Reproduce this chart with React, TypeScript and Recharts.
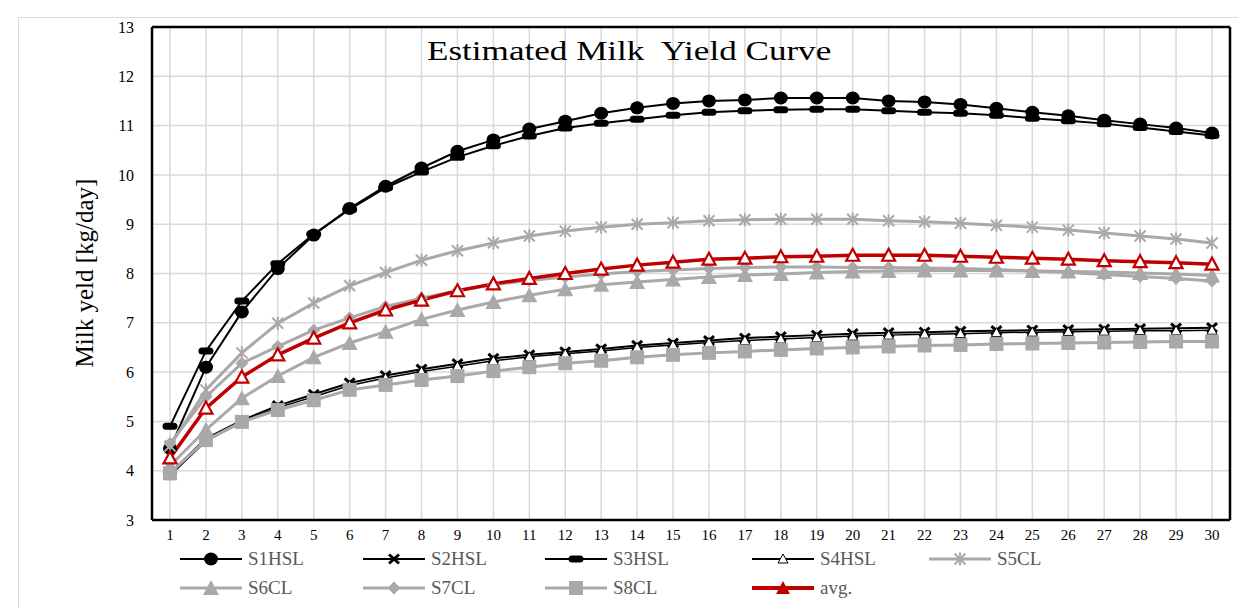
import { LineChart, Line, XAxis, YAxis, CartesianGrid } from "recharts";

const days = ["1", "2", "3", "4", "5", "6", "7", "8", "9", "10", "11", "12", "13", "14", "15", "16", "17", "18", "19", "20", "21", "22", "23", "24", "25", "26", "27", "28", "29", "30"];
const yTicks = [3, 4, 5, 6, 7, 8, 9, 10, 11, 12, 13];

const s1hsl = [4.45, 6.1, 7.22, 8.1, 8.78, 9.32, 9.77, 10.14, 10.48, 10.71, 10.93, 11.09, 11.25, 11.36, 11.45, 11.5, 11.52, 11.56, 11.56, 11.56, 11.5, 11.48, 11.43, 11.35, 11.27, 11.2, 11.11, 11.03, 10.95, 10.85];
const s2hsl = [3.95, 4.65, 5.02, 5.32, 5.55, 5.78, 5.93, 6.06, 6.17, 6.28, 6.35, 6.41, 6.47, 6.54, 6.59, 6.64, 6.69, 6.72, 6.75, 6.78, 6.8, 6.81, 6.83, 6.84, 6.85, 6.86, 6.87, 6.88, 6.89, 6.9];
const s3hsl = [4.9, 6.43, 7.44, 8.2, 8.8, 9.3, 9.74, 10.06, 10.36, 10.59, 10.79, 10.95, 11.05, 11.13, 11.21, 11.27, 11.3, 11.32, 11.33, 11.33, 11.3, 11.27, 11.25, 11.21, 11.15, 11.1, 11.04, 10.96, 10.88, 10.8];
const s4hsl = [3.9, 4.6, 4.98, 5.28, 5.5, 5.73, 5.88, 6.01, 6.12, 6.23, 6.31, 6.37, 6.43, 6.5, 6.55, 6.6, 6.64, 6.67, 6.7, 6.73, 6.75, 6.77, 6.78, 6.8, 6.81, 6.82, 6.83, 6.84, 6.84, 6.85];
const s5cl = [4.5, 5.64, 6.39, 6.99, 7.4, 7.75, 8.02, 8.27, 8.46, 8.62, 8.76, 8.86, 8.94, 9.0, 9.03, 9.07, 9.09, 9.1, 9.1, 9.1, 9.07, 9.05, 9.02, 8.98, 8.94, 8.88, 8.82, 8.76, 8.7, 8.62];
const s6cl = [4.1, 4.83, 5.47, 5.92, 6.3, 6.59, 6.82, 7.07, 7.26, 7.42, 7.56, 7.68, 7.77, 7.83, 7.88, 7.93, 7.97, 7.99, 8.02, 8.04, 8.05, 8.06, 8.06, 8.06, 8.05, 8.04, 8.03, 8.01, 7.99, 7.96];
const s7cl = [4.55, 5.5, 6.18, 6.52, 6.85, 7.1, 7.33, 7.5, 7.65, 7.77, 7.86, 7.93, 7.99, 8.04, 8.07, 8.1, 8.12, 8.13, 8.13, 8.12, 8.12, 8.11, 8.1, 8.08, 8.05, 8.02, 7.98, 7.94, 7.9, 7.85];
const s8cl = [3.95, 4.62, 4.99, 5.23, 5.43, 5.64, 5.74, 5.84, 5.92, 6.02, 6.1, 6.18, 6.23, 6.3, 6.35, 6.39, 6.42, 6.45, 6.48, 6.5, 6.52, 6.54, 6.55, 6.57, 6.58, 6.59, 6.6, 6.61, 6.62, 6.62];
const avg = [4.26, 5.27, 5.9, 6.35, 6.69, 7.0, 7.26, 7.46, 7.65, 7.79, 7.9, 8.0, 8.09, 8.17, 8.23, 8.29, 8.31, 8.34, 8.35, 8.37, 8.37, 8.37, 8.35, 8.33, 8.31, 8.29, 8.26, 8.24, 8.22, 8.19];

const data = days.map((day, i) => ({
  day,
  S1HSL: s1hsl[i],
  S2HSL: s2hsl[i],
  S3HSL: s3hsl[i],
  S4HSL: s4hsl[i],
  S5CL: s5cl[i],
  S6CL: s6cl[i],
  S7CL: s7cl[i],
  S8CL: s8cl[i],
  avg: avg[i],
}));

const BLACK = "#000";
const GREY = "#aaa8a8";
const RED = "#c00000";
const SERIF = "'Liberation Serif', 'Times New Roman', serif";

type Shape = "circle" | "x" | "dash" | "otri" | "star" | "tri" | "diamond" | "square" | "rtri" | "ftri";

const series: { key: string; shape: Shape; color: string; width: number }[] = [
  { key: "S1HSL", shape: "circle", color: BLACK, width: 2 },
  { key: "S2HSL", shape: "x", color: BLACK, width: 2 },
  { key: "S3HSL", shape: "dash", color: BLACK, width: 2 },
  { key: "S4HSL", shape: "otri", color: BLACK, width: 1.5 },
  { key: "S5CL", shape: "star", color: GREY, width: 3 },
  { key: "S6CL", shape: "tri", color: GREY, width: 3 },
  { key: "S7CL", shape: "diamond", color: GREY, width: 3 },
  { key: "S8CL", shape: "square", color: GREY, width: 3 },
  { key: "avg", shape: "rtri", color: RED, width: 3.5 },
];

function Marker({ shape, cx, cy, color }: { shape: Shape; cx: number; cy: number; color: string }) {
  if (cx == null || cy == null) return null;
  switch (shape) {
    case "circle":
      return <ellipse cx={cx} cy={cy} rx={7} ry={6.5} fill={color} />;
    case "x":
      return (
        <g stroke={color} strokeWidth={3}>
          <line x1={cx - 5} y1={cy - 4.5} x2={cx + 5} y2={cy + 4.5} />
          <line x1={cx - 5} y1={cy + 4.5} x2={cx + 5} y2={cy - 4.5} />
        </g>
      );
    case "dash":
      return <rect x={cx - 7.5} y={cy - 3.5} width={15} height={7} rx={3.5} fill={color} />;
    case "otri":
      return <polygon points={`${cx},${cy - 5} ${cx + 5},${cy + 4} ${cx - 5},${cy + 4}`} fill="#fff" stroke={color} strokeWidth={1} />;
    case "star":
      return (
        <g stroke={color} strokeWidth={2}>
          <line x1={cx - 5.5} y1={cy - 5.5} x2={cx + 5.5} y2={cy + 5.5} />
          <line x1={cx - 5.5} y1={cy + 5.5} x2={cx + 5.5} y2={cy - 5.5} />
          <line x1={cx} y1={cy - 6.5} x2={cx} y2={cy + 6.5} />
        </g>
      );
    case "tri":
      return <polygon points={`${cx},${cy - 8} ${cx + 8},${cy + 7} ${cx - 8},${cy + 7}`} fill={color} />;
    case "diamond":
      return <polygon points={`${cx},${cy - 6.5} ${cx + 6.5},${cy} ${cx},${cy + 6.5} ${cx - 6.5},${cy}`} fill={color} />;
    case "square":
      return <rect x={cx - 7} y={cy - 7} width={14} height={14} fill={color} />;
    case "rtri":
      return <polygon points={`${cx},${cy - 6.5} ${cx + 6.5},${cy + 5.5} ${cx - 6.5},${cy + 5.5}`} fill="#fff" stroke={color} strokeWidth={2.2} />;
    case "ftri":
      return <polygon points={`${cx},${cy - 7} ${cx + 7},${cy + 6} ${cx - 7},${cy + 6}`} fill={color} />;
  }
  return null;
}

const makeDot = (key: string, shape: Shape, color: string) => (p: any) => (
  <Marker key={`${key}-${p.index}`} shape={shape} cx={p.cx} cy={p.cy} color={color} />
);

const renderYLabel = () => {
  const x = 76;
  const y = 265;
  return (
    <text x={x} y={y} transform={`rotate(-90 ${x} ${y})`} textAnchor="middle" dominantBaseline="central" fontFamily={SERIF} fontSize={25} fill="#000">
      Milk yeld [kg/day]
    </text>
  );
};

const legendRows = [
  [series[0], series[1], series[2], series[3], series[4]],
  [series[5], series[6], series[7], series[8]],
];
const legendCols = [172, 355, 537, 744, 921];

export default function App() {
  return (
    <div style={{ position: "relative", width: 1230, height: 600 }}>
      <div style={{ position: "absolute", left: 10, top: 9, width: 1236, height: 600, borderTop: "1px solid #d9d9d9", borderLeft: "1px solid #d9d9d9" }} />
      <LineChart width={1230} height={600} data={data} margin={{ top: 18, right: 7, left: 0, bottom: 58 }}>
        <CartesianGrid stroke="#d9d9d9" strokeWidth={1.5} />
        <XAxis
          dataKey="day"
          interval={0}
          padding={{ left: 18, right: 18 }}
          height={30}
          axisLine={{ stroke: "#000", strokeWidth: 2.5 }}
          tickLine={false}
          tickSize={6}
          tickMargin={3}
          tick={{ fontFamily: SERIF, fontSize: 15, fill: "#000" }}
        />
        <XAxis xAxisId="top" orientation="top" dataKey="day" height={1} tick={false} tickLine={false} axisLine={{ stroke: "#000", strokeWidth: 2.5 }} padding={{ left: 18, right: 18 }} />
        <YAxis
          type="number"
          domain={[3, 13]}
          ticks={yTicks}
          interval={0}
          width={144}
          axisLine={{ stroke: "#000", strokeWidth: 2.5 }}
          tickLine={false}
          tickSize={6}
          tickMargin={12}
          tick={{ fontFamily: SERIF, fontSize: 16, fill: "#000" }}
          label={renderYLabel}
        />
        <YAxis yAxisId="right" orientation="right" type="number" domain={[3, 13]} width={1} tick={false} tickLine={false} axisLine={{ stroke: "#000", strokeWidth: 2.5 }} />
        {series.map((s) => (
          <Line
            key={s.key}
            dataKey={s.key}
            stroke={s.color}
            strokeWidth={s.width}
            dot={makeDot(s.key, s.shape, s.color)}
            activeDot={false}
            isAnimationActive={false}
          />
        ))}
      </LineChart>
      <div style={{ position: "absolute", left: 419, top: 28, fontFamily: SERIF, fontSize: 27, color: "#000", whiteSpace: "pre", transform: "scaleX(1.3)", transformOrigin: "left top" }}>
        Estimated Milk  Yield Curve
      </div>
      {legendRows.map((row, r) =>
        row.map((s, c) => (
          <div key={s.key} style={{ position: "absolute", left: legendCols[c], top: 540 + r * 29, height: 22, display: "flex", alignItems: "center" }}>
            <svg width={64} height={22}>
              <line x1={0} y1={11} x2={62} y2={11} stroke={s.color} strokeWidth={s.key === "avg" ? 4 : s.color === GREY ? 3 : 2} />
              <Marker shape={s.key === "avg" ? "ftri" : s.shape} cx={31} cy={11} color={s.color} />
            </svg>
            <span style={{ marginLeft: 4, fontFamily: SERIF, fontSize: 19, color: "#595959" }}>{s.key === "avg" ? "avg." : s.key}</span>
          </div>
        ))
      )}
    </div>
  );
}
